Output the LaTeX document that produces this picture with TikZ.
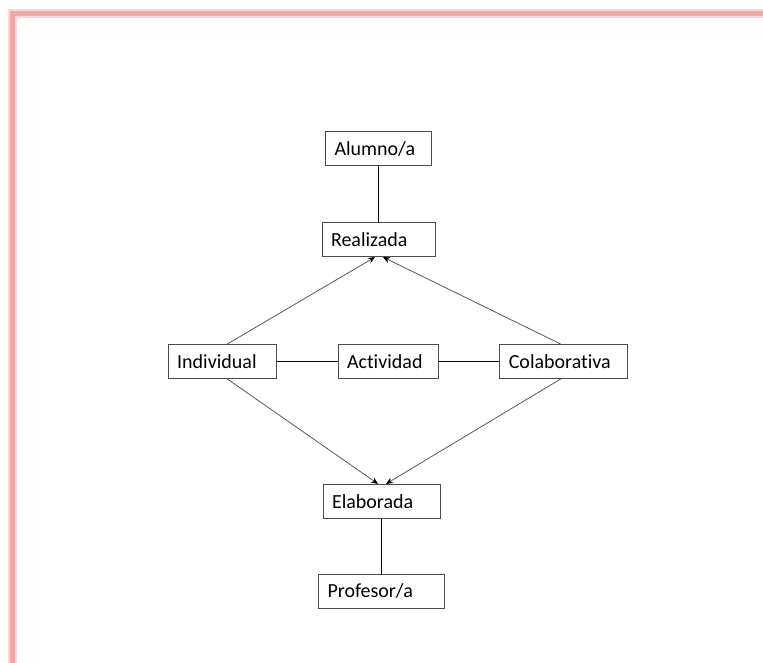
\documentclass[tikz,border=0pt]{standalone}
\usepackage{fontspec}
\setmainfont{Carlito}[Ligatures=NoCommon]
\usetikzlibrary{positioning,arrows.meta}
\definecolor{framepink}{RGB}{244,166,166}

\begin{document}
\begin{tikzpicture}[x=1pt,y=-1pt,font=\fontsize{20}{24}\selectfont,
    box/.style={draw=black!70, line width=0.8pt, inner xsep=9pt, inner ysep=0pt,
        minimum height=34pt, align=left},
    link/.style={line width=1.2pt},
    flow/.style={draw=black!65, line width=0.8pt, -{Stealth[length=7pt,width=6pt,black]}}
]

\useasboundingbox (0,0) rectangle (763,663);

% frame
\draw[framepink!45, line width=9pt] (12.5,663) -- (12.5,14) -- (763,14);
\draw[framepink, line width=5pt] (12.5,663) -- (12.5,14) -- (763,14);

\node[box, text width=82pt] (actividad) at (388,361.5) { Actividad };

\node[box,
    text width=90pt,
    left=61pt of actividad
] (individual) { Individual };

\node[box,
    text width=110pt,
    right=61pt of actividad
] (colaborativa) { Colaborativa };

\node[box,
    text width=95pt,
    above=87pt of actividad,
    xshift=-9.5pt
] (realizada) { Realizada };

\node[box,
    text width=88pt,
    above=56pt of realizada
] (alumno) { Alumno/a };

\node[box,
    text width=99pt,
    below=105pt of actividad,
    xshift=-6.5pt
] (elaborada) { Elaborada };

\node[box,
    text width=108pt,
    below=55pt of elaborada
] (profesor) { Profesor/a };

\draw[link] (alumno) -- (realizada);
\draw[link] (individual) -- (actividad);
\draw[link] (actividad) -- (colaborativa);
\draw[link] (elaborada) -- (profesor);

\draw[flow] ([xshift=5pt]individual.north) -- ([xshift=-3.5pt]realizada.south);
\draw[flow] ([xshift=-3pt]colaborativa.north) -- ([xshift=4.5pt]realizada.south);

\draw[flow] ([xshift=5pt]individual.south) -- ([xshift=-3.5pt]elaborada.north);
\draw[flow] ([xshift=-3pt]colaborativa.south) -- ([xshift=4.5pt]elaborada.north);

\end{tikzpicture}
\end{document}
